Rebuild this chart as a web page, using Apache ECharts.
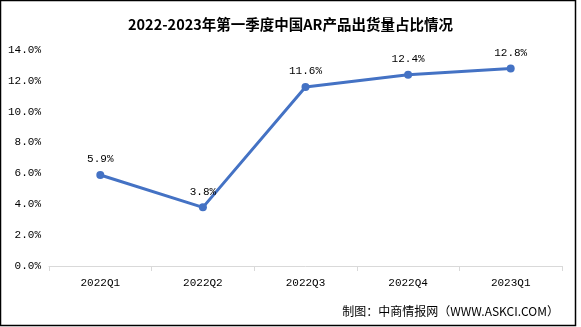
<!DOCTYPE html>
<html>
<head>
<meta charset="utf-8">
<script src="https://cdn.jsdelivr.net/npm/echarts@6/dist/echarts.min.js"></script>
<style>
html,body{margin:0;padding:0;background:#fff;}
#c{width:581px;height:327px;}
</style>
</head>
<body>
<div id="c"></div>
<script>
var titleText = '2022-2023年第一季度中国AR产品出货量占比情况';
var sourceText = '制图：中商情报网（WWW.ASKCI.COM）';
var categories = ['2022Q1', '2022Q2', '2022Q3', '2022Q4', '2023Q1'];
var shareValues = [5.9, 3.8, 11.6, 12.4, 12.8];
var yMin = 0, yMax = 14, yStep = 2;

var mono = "'Liberation Mono', 'Noto Sans CJK SC', monospace";
var chart = echarts.init(document.getElementById('c'), null, {renderer: 'canvas'});
chart.setOption({
  backgroundColor: '#ffffff',
  animation: false,
  title: {
    text: titleText,
    left: 'center',
    top: 12,
    textStyle: {fontSize: 14.5, fontWeight: 'bold', color: '#000', fontFamily: "'Noto Sans CJK SC', serif"}
  },
  grid: {left: 49, right: 19, top: 50, bottom: 61, containLabel: false},
  xAxis: {
    type: 'category',
    data: categories,
    boundaryGap: true,
    axisLine: {lineStyle: {color: '#D9D9D9', width: 1}},
    axisTick: {show: true, length: 5, lineStyle: {color: '#D9D9D9'}},
    axisLabel: {color: '#000', fontSize: 11, fontFamily: mono, margin: 12}
  },
  yAxis: {
    type: 'value',
    min: yMin, max: yMax, interval: yStep,
    axisLine: {show: false},
    axisTick: {show: false},
    splitLine: {show: false},
    axisLabel: {color: '#000', fontSize: 11, fontFamily: mono, margin: 8,
      formatter: function (v) { return v.toFixed(1) + '%'; }}
  },
  series: [{
    type: 'line',
    data: shareValues,
    symbol: 'circle',
    symbolSize: 8,
    lineStyle: {color: '#4472C4', width: 3},
    itemStyle: {color: '#4472C4'},
    label: {show: true, position: 'top', distance: 6, color: '#000', fontSize: 11, fontFamily: mono,
      formatter: function (p) { return p.value.toFixed(1) + '%'; }}
  }],
  graphic: [
    {type: 'rect', shape: {x: 0.5, y: 0.5, width: 575, height: 325}, style: {fill: 'none', stroke: '#000', lineWidth: 1.5}, silent: true},
    {type: 'text', right: 22, top: 305, style: {text: sourceText, fontSize: 12, fill: '#000', fontFamily: "'Noto Sans CJK SC', sans-serif"}}
  ]
});
</script>
</body>
</html>
